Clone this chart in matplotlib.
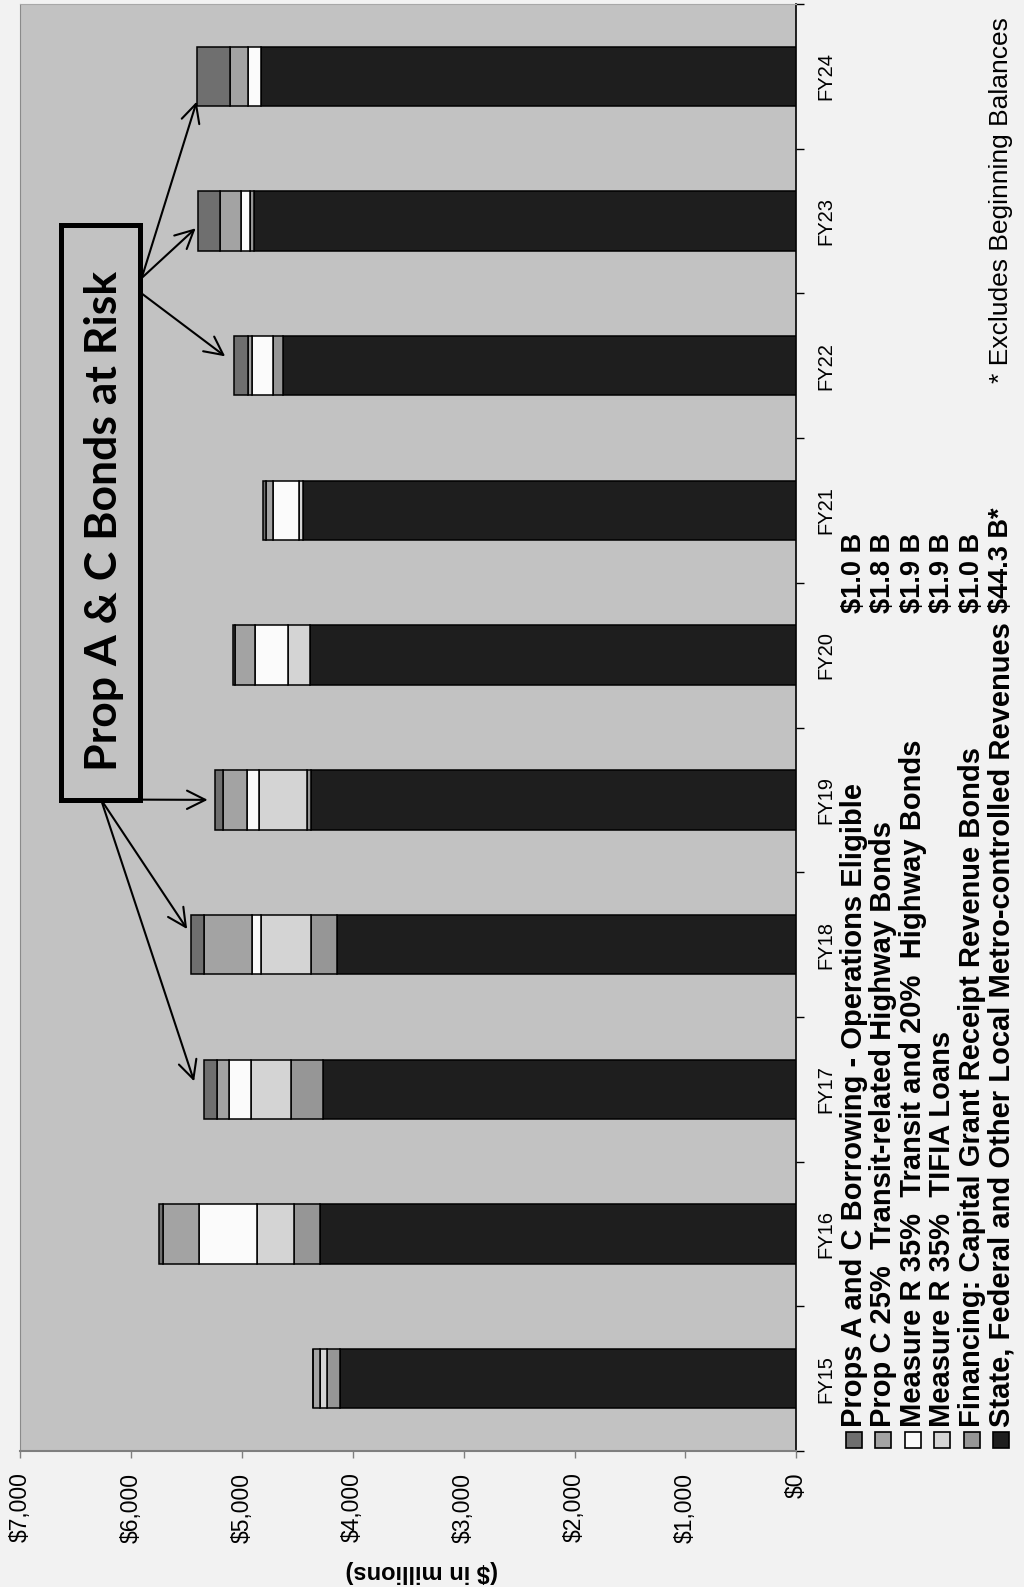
import numpy as np
import matplotlib
matplotlib.use('Agg')
import matplotlib.pyplot as plt
from matplotlib.patches import Rectangle

# fiscal years and funding sources ($ in millions)
years = ['FY15', 'FY16', 'FY17', 'FY18', 'FY19', 'FY20', 'FY21', 'FY22', 'FY23', 'FY24']
state_rev = [4115, 4295, 4265, 4139, 4376, 4385, 4451, 4626, 4890, 4827]
financing = [120, 232, 291, 240, 33, 0, 0, 90, 40, 0]
tifia_loans = [60, 339, 361, 451, 433, 196, 33, 0, 0, 0]
mr_bonds = [0, 520, 198, 75, 108, 300, 232, 195, 78, 120]
propc_bonds = [66, 325, 105, 433, 216, 180, 66, 30, 193, 160]
propac_borrow = [0, 33, 120, 120, 72, 20, 30, 129, 195, 300]

# legend text, top entry first
legendLabels = ['Props A and C Borrowing - Operations Eligible',
                'Prop C 25%  Transit-related Highway Bonds',
                'Measure R 35%  Transit and 20%  Highway Bonds',
                'Measure R 35%  TIFIA Loans',
                'Financing: Capital Grant Receipt Revenue Bonds',
                'State, Federal and Other Local Metro-controlled Revenues']
legendTotals = ['$1.0 B', '$1.8 B', '$1.9 B', '$1.9 B', '$1.0 B', '$44.3 B*']

valueTicks = [0, 1000, 2000, 3000, 4000, 5000, 6000, 7000]

W, H = 1024, 1587
FONT = 'Liberation Sans'


def figFrac(x, y):   # pixel from top-left -> figure fraction
    return x / W, 1 - y / H


def drawChart():
    series = [state_rev, financing, tifia_loans, mr_bonds, propc_bonds, propac_borrow]
    colors = ['#1e1e1e', '#969696', '#d4d4d4', '#fbfbfb', '#a3a3a3', '#6f6f6f']

    fig = plt.figure(figsize=(W / 100, H / 100), dpi=100, facecolor='#f2f2f2')
    x0, y0 = figFrac(20, 1451)
    x1, y1 = figFrac(796.3, 4)
    ax = fig.add_axes([x0, y0, x1 - x0, y1 - y0], facecolor='#c2c2c2')

    ypos = np.arange(len(years))
    left = np.zeros(len(years))
    for vals, c in zip(series, colors):
        ax.barh(ypos, vals, left=left, height=0.41, color=c,
                edgecolor='black', linewidth=1.1, zorder=3)
        left += np.array(vals)
    totals = left

    ax.set_xlim(7000, 0)
    ax.set_ylim(-0.5, len(years) - 0.5)
    ax.set_xticks(valueTicks)
    ax.set_xticklabels(['${:,}'.format(v) for v in valueTicks], rotation=90,
                       fontsize=16.5, family=FONT)
    ax.tick_params(axis='x', direction='out', length=5, width=1, color='#7f7f7f', pad=10.5)

    ax.yaxis.tick_right()
    ax.set_yticks(np.arange(len(years) + 1) - 0.5)
    ax.set_yticklabels([])
    ax.set_yticks(ypos, minor=True)
    ax.set_yticklabels(years, minor=True, rotation=90, va='center', fontsize=14.5, family=FONT)
    ax.tick_params(axis='y', which='major', direction='out', length=6, width=1, color='black')
    ax.tick_params(axis='y', which='minor', length=0, pad=14.5)

    ax.spines['right'].set_color('black')
    ax.spines['right'].set_linewidth(1.2)
    ax.spines['bottom'].set_color('#7f7f7f')
    ax.spines['bottom'].set_linewidth(1.5)
    ax.spines['left'].set_color('#8a8a8a')
    ax.spines['top'].set_color('#a8a8a8')

    # axis title (upside down along the value axis)
    fig.text(*figFrac(422, 1571), '($ in millions)', rotation=180, ha='center', va='center',
             fontsize=17, weight='bold', family=FONT)

    # legend, one rotated row per source
    for i, (lab, amt) in enumerate(zip(legendLabels, legendTotals)):
        cx = 853.7 + i * 29.5
        c = colors[len(colors) - 1 - i]
        fig.patches.append(Rectangle(figFrac(cx - 8, 1448), 16 / W, 16 / H,
                                     transform=fig.transFigure, facecolor=c,
                                     edgecolor='black', linewidth=1.2))
        fig.text(*figFrac(cx, 1427), lab, rotation=90, ha='center', va='bottom',
                 fontsize=21, weight='bold', family=FONT)
        fig.text(*figFrac(cx, 613), amt, rotation=90, ha='center', va='bottom',
                 fontsize=19.5, weight='bold', family=FONT)

    fig.text(*figFrac(1001, 383), '* Excludes Beginning Balances', rotation=90,
             ha='center', va='bottom', fontsize=19, family=FONT)

    # callout box
    bx0, by0 = figFrac(60.7, 799.5)
    bx1, by1 = figFrac(139.7, 224.7)
    fig.patches.append(Rectangle((bx0, by0), bx1 - bx0, by1 - by0, transform=fig.transFigure,
                                 facecolor='none', edgecolor='black', linewidth=3.6, zorder=5))
    fig.text(*figFrac(104, 521), 'Prop A & C Bonds at Risk', rotation=90, ha='center',
             va='center', fontsize=32, weight='bold', family='Lato')

    # arrows from the box to the affected years: (year index, value offset, y offset, tail)
    arrows = [(9, 0, -0.175, (141.7, 278)), (8, 20, -0.05, (141.7, 278)),
              (7, 80, 0.065, (141.7, 293.5)), (4, 70, 0.0, (101, 799.5)),
              (3, 35, 0.107, (101, 799.5)), (2, 90, 0.055, (101, 799.5))]
    for idx, dx, dy, (tx, ty) in arrows:
        ax.annotate('', xy=(totals[idx] + dx, idx + dy), xycoords='data',
                    xytext=(tx, H - ty), textcoords='figure pixels',
                    arrowprops=dict(arrowstyle='->, head_length=0.6, head_width=0.3',
                                    mutation_scale=22, lw=1.5, color='black',
                                    shrinkA=0, shrinkB=0), zorder=6, annotation_clip=False)

    fig.savefig('out.png', dpi=100, facecolor=fig.get_facecolor())


if __name__ == '__main__':
    drawChart()
